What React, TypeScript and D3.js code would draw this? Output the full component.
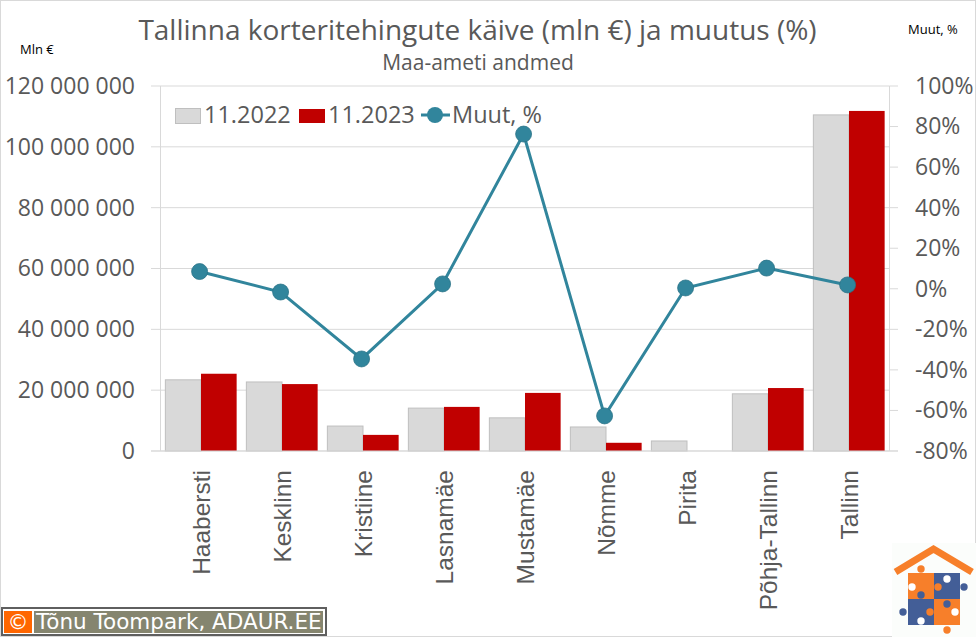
import { useEffect, useRef } from 'react'
import * as d3 from 'd3'

const districts = ['Haabersti', 'Kesklinn', 'Kristiine', 'Lasnamäe', 'Mustamäe', 'Nõmme', 'Pirita', 'Põhja-Tallinn', 'Tallinn']
const turnover2022 = [23.4, 22.7, 8.2, 14.1, 10.9, 7.9, 3.3, 18.8, 110.5].map(v => v * 1e6)
const turnover2023 = [25.4, 22.0, 5.3, 14.5, 19.1, 2.7, 0, 20.7, 111.8].map(v => v * 1e6)
const changePct = [8.5, -1.6, -34.6, 2.4, 76.3, -62.7, 0.4, 10.2, 1.9]

const W = 976
const H = 637
const left = 160.5
const right = 889.5
const top = 86
const bottom = 451

const GREY = '#595959'
const TEAL = '#31859c'
const LABEL_FONT = '"Open Sans", sans-serif'

export default function App() {
  const svgRef = useRef<SVGSVGElement>(null)

  useEffect(() => {
    if (!svgRef.current) return
    const svg = d3.select(svgRef.current)
    svg.selectAll('*').remove()

    const x = d3.scaleBand().domain(districts).range([left, right])
    const y = d3.scaleLinear().domain([0, 120000000]).range([bottom, top])
    const yPct = d3.scaleLinear().domain([-80, 100]).range([bottom, top])
    const barW = x.bandwidth() * 0.44
    const spaced = d3.formatLocale({ decimal: ',', thousands: ' ', grouping: [3], currency: ['', ''] }).format(',d')
    // line markers sit slightly left of the bar pair centre in the original
    const lineX = (i: number) => x(districts[i])! + x.bandwidth() / 2 - 1.4

    // image border
    svg.append('rect').attr('x', 0.5).attr('y', 0.5).attr('width', W - 1).attr('height', H - 1)
      .attr('fill', 'white').attr('stroke', '#d9d9d9')

    // gridlines, with the outer tick stubs on both sides
    svg.append('g').selectAll('line')
      .data(y.ticks(6))
      .join('line')
      .attr('x1', 151).attr('x2', right)
      .attr('y1', d => y(d)).attr('y2', d => y(d))
      .attr('stroke', '#d9d9d9').attr('stroke-width', 1)
    svg.append('g').selectAll('line')
      .data(d3.range(-80, 101, 20))
      .join('line')
      .attr('x1', right).attr('x2', 898)
      .attr('y1', d => yPct(d)).attr('y2', d => yPct(d))
      .attr('stroke', '#d9d9d9').attr('stroke-width', 1)
    svg.append('line').attr('x1', left).attr('x2', left).attr('y1', top).attr('y2', bottom)
      .attr('stroke', '#d9d9d9')
    svg.append('line').attr('x1', right).attr('x2', right).attr('y1', top).attr('y2', bottom)
      .attr('stroke', '#d9d9d9')

    // left axis
    const yAxis = svg.append('g')
      .attr('transform', `translate(135,0)`)
      .call(d3.axisLeft(y).tickValues(y.ticks(6)).tickSize(0).tickPadding(0).tickFormat(d => spaced(+d)))
    yAxis.select('.domain').remove()
    yAxis.selectAll('text').style('font-size', '23px').style('font-family', LABEL_FONT).style('fill', GREY)
      .attr('text-anchor', 'end')

    // right axis, labels start at the same x
    const yAxisR = svg.append('g')
      .attr('transform', `translate(915,0)`)
      .call(d3.axisRight(yPct).tickValues(d3.range(-80, 101, 20)).tickSize(0).tickPadding(0).tickFormat(d => `${d}%`))
    yAxisR.select('.domain').remove()
    yAxisR.selectAll('text').style('font-size', '23px').style('font-family', LABEL_FONT).style('fill', GREY)
      .attr('text-anchor', 'start')

    // bars
    svg.append('g').selectAll('rect')
      .data(districts)
      .join('rect')
      .attr('x', d => x(d)! + x.bandwidth() / 2 - barW)
      .attr('y', (_, i) => y(turnover2022[i]))
      .attr('width', barW)
      .attr('height', (_, i) => bottom - y(turnover2022[i]))
      .attr('fill', '#d9d9d9').attr('stroke', '#bfbfbf').attr('stroke-width', 1)
    svg.append('g').selectAll('rect')
      .data(districts)
      .join('rect')
      .attr('x', d => x(d)! + x.bandwidth() / 2)
      .attr('y', (_, i) => y(turnover2023[i]))
      .attr('width', barW)
      .attr('height', (_, i) => bottom - y(turnover2023[i]))
      .attr('fill', '#c00000')

    // baseline over the bars
    svg.append('line').attr('x1', 151).attr('x2', 898).attr('y1', bottom).attr('y2', bottom)
      .attr('stroke', '#d9d9d9')

    // change line
    const line = d3.line<number>()
      .x((_, i) => lineX(i))
      .y(d => yPct(d))
    svg.append('path').datum(changePct)
      .attr('fill', 'none').attr('stroke', TEAL).attr('stroke-width', 3).attr('d', line)
    svg.append('g').selectAll('circle')
      .data(changePct)
      .join('circle')
      .attr('cx', (_, i) => lineX(i))
      .attr('cy', d => yPct(d))
      .attr('r', 8)
      .attr('fill', TEAL).attr('stroke', '#2a7286').attr('stroke-width', 0.75)

    // category labels
    svg.append('g').selectAll('text')
      .data(districts)
      .join('text')
      .attr('transform', d => `translate(${x(d)! + x.bandwidth() / 2 + 8.8},470) rotate(-90)`)
      .attr('text-anchor', 'end')
      .style('font-size', '24.5px')
      .style('font-family', '"Liberation Sans", sans-serif')
      .style('fill', GREY)
      .text(d => d)

    // titles
    svg.append('text').attr('x', 477.5).attr('y', 40).attr('text-anchor', 'middle')
      .style('font-size', '28px').style('font-family', LABEL_FONT).style('fill', GREY)
      .text('Tallinna korteritehingute käive (mln €) ja muutus (%)')
    svg.append('text').attr('x', 478).attr('y', 70).attr('text-anchor', 'middle')
      .style('font-size', '21px').style('font-family', LABEL_FONT).style('fill', GREY)
      .text('Maa-ameti andmed')
    svg.append('text').attr('x', 20).attr('y', 54)
      .style('font-size', '13px').style('font-family', LABEL_FONT).style('fill', 'black').text('Mln €')
    svg.append('text').attr('x', 908).attr('y', 34)
      .style('font-size', '13px').style('font-family', LABEL_FONT).style('fill', 'black').text('Muut, %')

    // legend
    const legend = svg.append('g')
    legend.append('rect').attr('x', 175.5).attr('y', 108.5).attr('width', 25).attr('height', 15)
      .attr('fill', '#d9d9d9').attr('stroke', '#bfbfbf')
    legend.append('rect').attr('x', 299).attr('y', 109).attr('width', 26).attr('height', 14).attr('fill', '#c00000')
    legend.append('line').attr('x1', 421).attr('x2', 450).attr('y1', 115).attr('y2', 115)
      .attr('stroke', TEAL).attr('stroke-width', 3)
    legend.append('circle').attr('cx', 435).attr('cy', 115).attr('r', 8).attr('fill', TEAL)
    const legendText = [['11.2022', 204], ['11.2023', 328], ['Muut, %', 452]] as const
    legend.selectAll('text')
      .data(legendText)
      .join('text')
      .attr('x', d => d[1]).attr('y', 123)
      .style('font-size', '23.5px').style('font-family', LABEL_FONT).style('fill', GREY)
      .text(d => d[0])

    // copyright badge
    const badge = svg.append('g')
    badge.append('rect').attr('x', 1).attr('y', 607).attr('width', 326).attr('height', 29).attr('fill', '#5f5f5f')
    badge.append('rect').attr('x', 3).attr('y', 609).attr('width', 322).attr('height', 25).attr('fill', 'white')
    badge.append('rect').attr('x', 4).attr('y', 611).attr('width', 28).attr('height', 22).attr('fill', '#ff6600')
    badge.append('rect').attr('x', 34).attr('y', 611).attr('width', 289).attr('height', 22).attr('fill', '#85856f')
    badge.append('text').attr('x', 18).attr('y', 629).attr('text-anchor', 'middle')
      .style('font-size', '21px').style('font-family', '"DejaVu Sans", sans-serif').style('fill', 'white').text('©')
    badge.append('text').attr('x', 36).attr('y', 629)
      .style('font-size', '21.5px').style('font-family', '"DejaVu Sans", sans-serif').style('fill', 'white')
      .text('Tõnu Toompark, ADAUR.EE')

    // logo
    const ORANGE = '#f77f2a'
    const BLUE = '#435e97'
    const logo = svg.append('g')
    logo.append('rect').attr('x', 892).attr('y', 543).attr('width', 84).attr('height', 94).attr('fill', '#fbfdfb')
    logo.append('path').attr('d', 'M895.5 572 L933.5 549 L972 572').attr('fill', 'none')
      .attr('stroke', ORANGE).attr('stroke-width', 7)
    const pieces = [[908, 573, ORANGE], [934, 573, BLUE], [908, 599, BLUE], [934, 599, ORANGE]] as const
    logo.selectAll('rect.piece').data(pieces).join('rect').attr('class', 'piece')
      .attr('x', d => d[0]).attr('y', d => d[1]).attr('width', 26).attr('height', 26).attr('fill', d => d[2])
    const knobs = [
      [921, 569, ORANGE], [938, 587, ORANGE], [947, 579, 'white'], [912, 587, 'white'], [964, 587, BLUE],
      [921, 595, BLUE], [947, 604, BLUE], [903, 612, BLUE], [930, 612, ORANGE], [921, 621, 'white'],
      [955, 612, 'white'], [947, 630, ORANGE],
    ] as const
    logo.selectAll('circle').data(knobs).join('circle')
      .attr('cx', d => d[0]).attr('cy', d => d[1]).attr('r', 3.7).attr('fill', d => d[2])
  }, [])

  return (
    <svg
      ref={svgRef}
      width={W}
      height={H}
      style={{ position: 'absolute', left: 0, top: 0 }}
    />
  )
}
